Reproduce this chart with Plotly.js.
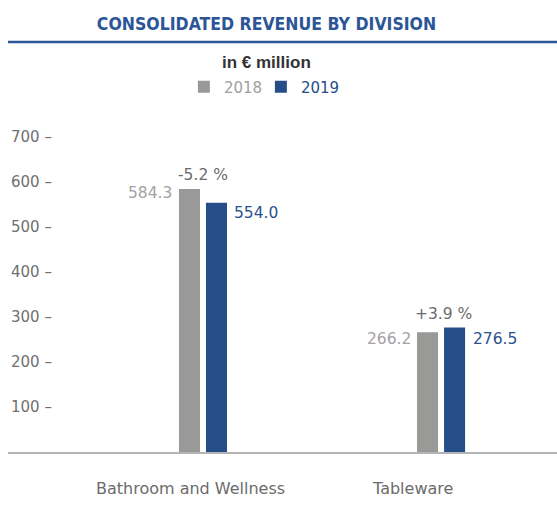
<!DOCTYPE html>
<html>
<head>
<meta charset="utf-8">
<script src="https://cdn.plot.ly/plotly-3.0.1.min.js"></script>
<style>html,body{margin:0;padding:0;background:#fff;}#chart{width:557px;height:511px;}</style>
</head>
<body>
<div id="chart"></div>
<script>
// ---- data ----
var categories = ["Bathroom and Wellness", "Tableware"];
var values2018 = [584.3, 266.2];
var values2019 = [554.0, 276.5];
var seriesNames = ["2018", "2019"];
var yTickVals = [100, 200, 300, 400, 500, 600, 700];
var yTickText = ["100 –", "200 –", "300 –", "400 –", "500 –", "600 –", "700 –"];

// ---- styles ----
var GRAY = "#999998";
var BLUE = "#254e89";
var TITLE_BLUE = "#2b5597";
var FONT = "DejaVu Sans, Arial, sans-serif";

var pxPerUnit = 238; // category spacing in px
var barW = 21 / pxPerUnit;

var trace2018 = {
  type: "bar", x: categories, y: values2018, name: '<span style="color:#a0a0a0">' + seriesNames[0] + '</span>',
  marker: {color: GRAY}, width: barW, offset: -24 / pxPerUnit, hoverinfo: "x+y", legendwidth: 32
};
var trace2019 = {
  type: "bar", x: categories, y: values2019, name: '<span style="color:' + BLUE + '">' + seriesNames[1] + '</span>',
  marker: {color: BLUE}, width: barW, offset: 3 / pxPerUnit, hoverinfo: "x+y"
};

var annotations = [];
var labelShift = [[-29, 29], [-28, 30]];
var yShift2018 = [-4, -7];
var yShift2019 = [-10, -11];
var catShift = [-12.5, -29];
for (var i = 0; i < categories.length; i++) {
  annotations.push({x: categories[i], y: values2018[i], xref: "x", yref: "y", text: values2018[i].toFixed(1),
    showarrow: false, xanchor: "right", yanchor: "middle", xshift: labelShift[i][0], yshift: yShift2018[i],
    font: {family: FONT, size: 15.5, color: "#a3a3a3"}});
  annotations.push({x: categories[i], y: values2019[i], xref: "x", yref: "y", text: values2019[i].toFixed(1),
    showarrow: false, xanchor: "left", yanchor: "middle", xshift: labelShift[i][1], yshift: yShift2019[i],
    font: {family: FONT, size: 15.5, color: "#2a5290"}});
  var pct = (values2019[i] - values2018[i]) / values2018[i] * 100;
  var pctText = (pct >= 0 ? "+" : "-") + Math.abs(pct).toFixed(1) + " %";
  annotations.push({x: categories[i], y: Math.max(values2018[i], values2019[i]), xref: "x", yref: "y", text: pctText,
    showarrow: false, xanchor: "center", yanchor: "middle", xshift: i === 0 ? 0 : 2, yshift: 14,
    font: {family: FONT, size: 15.5, color: "#6b6b6b"}});
  annotations.push({x: categories[i], y: 0, xref: "x", yref: "y", text: categories[i],
    showarrow: false, xanchor: "center", yanchor: "middle", xshift: catShift[i], yshift: -36,
    font: {family: FONT, size: 16, color: "#6b6b6b"}});
}
annotations.push({x: 0.47, y: 1.140, xref: "paper", yref: "paper", text: "<b>in € million</b>",
  showarrow: false, xanchor: "center", yanchor: "middle",
  font: {family: "Liberation Sans, Arial, sans-serif", size: 17, color: "#333333"}});

var layout = {
  width: 557, height: 511,
  margin: {l: 8, r: 0, t: 110, b: 59, pad: 0},
  paper_bgcolor: "#ffffff", plot_bgcolor: "#ffffff",
  title: {text: "<b>CONSOLIDATED REVENUE BY DIVISION</b>", x: 0.4785, xref: "container", xanchor: "center",
    y: 0.954, yref: "container", yanchor: "middle",
    font: {family: "DejaVu Sans Condensed, Liberation Sans Narrow, Arial Narrow, sans-serif", size: 17.5, color: TITLE_BLUE}},
  barmode: "overlay",
  showlegend: true,
  legend: {orientation: "h", x: 0.467, xanchor: "center", y: 1.067, yanchor: "middle",
    font: {family: FONT, size: 15}, bgcolor: "rgba(0,0,0,0)", itemclick: false, itemdoubleclick: false},
  xaxis: {type: "category", range: [-0.819, 1.487], showticklabels: false, ticks: "", showgrid: false,
    zeroline: false, showline: true, linecolor: "#b4b4b4", linewidth: 1.5, fixedrange: true},
  yaxis: {range: [0, 760], tickvals: yTickVals, ticktext: yTickText, ticklabelposition: "inside",
    ticks: "", showgrid: false, zeroline: false, showline: false, fixedrange: true,
    tickfont: {family: FONT, size: 15, color: "#707070"}},
  shapes: [{type: "line", xref: "paper", yref: "paper", x0: 0, x1: 1, y0: 1.1988, y1: 1.1988,
    line: {color: TITLE_BLUE, width: 2.5}}],
  annotations: annotations
};

Plotly.newPlot("chart", [trace2018, trace2019], layout, {displayModeBar: false, staticPlot: false});
</script>
</body>
</html>
